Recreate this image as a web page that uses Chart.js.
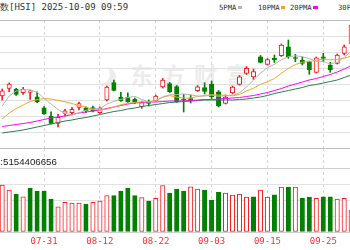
<!DOCTYPE html>
<html>
<head>
<meta charset="utf-8">
<script src="https://cdn.jsdelivr.net/npm/chart.js@4.4.1/dist/chart.umd.min.js"></script>
<style>
    html, body { margin: 0; padding: 0; background: #fff; }
    #wrap { position: relative; width: 350px; height: 250px; overflow: hidden; background: #fff; }
    canvas { position: absolute; left: 0; }
    .txt { position: absolute; white-space: nowrap; line-height: 1; font-family: "DejaVu Sans Mono", monospace; }
    .mk { position: absolute; top: 6px; width: 4px; height: 3px; }
    #mark { position: absolute; left: 130px; top: 63px; font: bold 23px "Noto Sans CJK SC", sans-serif;
            letter-spacing: 9px; color: #ececec; white-space: nowrap; line-height: 1; }
    #logo { position: absolute; left: 90px; top: 64px; width: 20px; height: 20px; border-radius: 50%;
            box-shadow: 6px 3px 0 0 #ececec; }
</style>
</head>
<body>
<div id="wrap">
    <div id="logo"></div>
    <div id="mark">东方财富</div>
    <canvas id="kline" width="350" height="131" style="top:19px"></canvas>
    <canvas id="volume" width="350" height="103" style="top:147px"></canvas>

    <div class="txt" style="top:3px; right:341px; font-size:9px; color:#333">恒生指数</div>
    <div class="txt" style="top:3px; left:9px; font-size:9px; color:#333">[HSI] 2025-10-09 09:59</div>

    <div class="txt" style="top:4px; left:219px; font-size:7.2px; color:#333">5PMA</div>
    <div class="mk" style="left:238px; background:#b4b4b4"></div>
    <div class="txt" style="top:4px; left:258px; font-size:7.2px; color:#333">10PMA</div>
    <div class="mk" style="left:281px; background:#f5a623"></div>
    <div class="txt" style="top:4px; left:290px; font-size:7.2px; color:#333">20PMA</div>
    <div class="mk" style="left:313px; width:5px; background:#ff00ff"></div>
    <div class="txt" style="top:4px; left:338px; font-size:7.2px; color:#333">30PMA</div>

    <div class="txt" style="top:156px; right:347px; font:9.7px 'Liberation Sans'; color:#222">成交量:</div>
    <div class="txt" style="top:156px; left:3px; font:9.7px 'Liberation Sans'; color:#222">5154406656</div>
</div>
<script>
// trading days shown (07-23 .. 10-02), labels every 8 bars
const dates = ["07-23", "07-24", "07-25", "07-28", "07-29", "07-30", "07-31", "08-01", "08-04", "08-05",
    "08-06", "08-07", "08-08", "08-11", "08-12", "08-13", "08-14", "08-15", "08-18", "08-19",
    "08-20", "08-21", "08-22", "08-25", "08-26", "08-27", "08-28", "08-29", "09-01", "09-02",
    "09-03", "09-04", "09-05", "09-08", "09-09", "09-10", "09-11", "09-12", "09-15", "09-16",
    "09-17", "09-18", "09-19", "09-22", "09-23", "09-24", "09-25", "09-26", "09-29", "09-30", "10-02"];
const tickIdx = [6, 14, 22, 30, 38, 46];

const opens = [25500, 25692, 25667, 25582, 25592, 25482, 25207, 25000, 24817, 25067,
    25082, 25217, 25207, 25212, 25082, 25400, 25837, 25467, 25467, 25417,
    25232, 25362, 25382, 25725, 25812, 25737, 25425, 25437, 25632, 25712,
    25800, 25607, 25317, 25575, 25792, 26067, 25975, 26482, 26292, 26450,
    26507, 26732, 26462, 26400, 26357, 26092, 26482, 26275, 26317, 26567, 26817];
const highs = [25675, 25825, 25692, 25717, 25650, 25607, 25237, 25107, 25042, 25167,
    25217, 25350, 25232, 25250, 25225, 25750, 25900, 25592, 25582, 25450,
    25362, 25400, 25525, 25937, 25837, 25762, 25537, 25525, 25762, 25832,
    25875, 25637, 25525, 25750, 26012, 26237, 26175, 26512, 26437, 26525,
    26800, 26900, 26542, 26475, 26375, 26475, 26567, 26342, 26550, 26775, 27350];
const lows = [25400, 25607, 25517, 25542, 25417, 25332, 25037, 24800, 24725, 25000,
    25025, 25150, 25082, 25100, 25062, 25375, 25625, 25362, 25337, 25312,
    25192, 25250, 25362, 25700, 25587, 25337, 25100, 25325, 25612, 25550,
    25437, 25225, 25300, 25550, 25775, 26037, 25912, 26325, 26275, 26337,
    26487, 26442, 26357, 26275, 26042, 26075, 26357, 26092, 26300, 26525, 26800];
const closes = [25632, 25800, 25537, 25667, 25625, 25357, 25050, 24817, 24967, 25132,
    25167, 25312, 25132, 25125, 25207, 25725, 25637, 25382, 25357, 25342,
    25337, 25312, 25500, 25900, 25607, 25357, 25400, 25387, 25732, 25612,
    25482, 25250, 25475, 25725, 25982, 26192, 26112, 26342, 26412, 26400,
    26775, 26482, 26437, 26312, 26150, 26457, 26442, 26150, 26525, 26732, 27275];

const ma5 = [25250, 25500, 25625, 25662, 25652, 25595, 25447, 25300, 25162, 25065,
    25027, 25080, 25142, 25175, 25190, 25300, 25365, 25415, 25462, 25490,
    25412, 25347, 25370, 25477, 25532, 25535, 25552, 25530, 25497, 25497,
    25522, 25492, 25510, 25510, 25582, 25725, 25897, 26070, 26207, 26292,
    26407, 26482, 26505, 26485, 26435, 26370, 26362, 26302, 26345, 26462, 26625];
const ma10 = [24925, 25075, 25187, 25275, 25362, 25412, 25437, 25425, 25387, 25357,
    25312, 25262, 25222, 25167, 25150, 25175, 25222, 25280, 25317, 25340,
    25355, 25355, 25392, 25470, 25510, 25472, 25450, 25450, 25487, 25515,
    25530, 25522, 25520, 25502, 25540, 25625, 25695, 25790, 25857, 25937,
    26067, 26190, 26287, 26345, 26362, 26390, 26422, 26402, 26415, 26447, 26497];
const ma20 = [24737, 24762, 24787, 24812, 24837, 24875, 24912, 24950, 24975, 25000,
    25037, 25075, 25100, 25125, 25150, 25187, 25225, 25262, 25300, 25325,
    25337, 25350, 25350, 25362, 25375, 25375, 25375, 25387, 25400, 25412,
    25412, 25425, 25437, 25450, 25462, 25487, 25512, 25550, 25587, 25637,
    25687, 25750, 25800, 25850, 25900, 25937, 25987, 26037, 26100, 26175, 26250];
const ma30 = [24575, 24600, 24625, 24650, 24687, 24725, 24762, 24800, 24837, 24875,
    24900, 24937, 24962, 25000, 25037, 25075, 25112, 25137, 25175, 25200,
    25237, 25262, 25287, 25312, 25337, 25350, 25362, 25375, 25387, 25400,
    25400, 25400, 25400, 25400, 25412, 25425, 25450, 25475, 25512, 25562,
    25600, 25637, 25675, 25712, 25762, 25787, 25825, 25862, 25900, 25962, 26025];

// volume in 1e8 shares, volUp = 1 for hollow red bars
const volumes = [117.5, 105, 94, 88, 109, 102.5, 102.5, 82.5, 63, 74,
    72, 72, 70, 74, 77, 91, 91, 102.5, 109, 91,
    86, 77.5, 84, 116, 97, 107, 102.5, 113, 107.5, 105,
    80, 99, 97, 92.5, 95, 87, 88, 105, 87, 93,
    112, 112, 112, 84, 87, 84, 88, 88, 82, 84, 55];
const volUp = [1, 1, 0, 1, 0, 0, 0, 0, 1, 1,
    1, 1, 0, 1, 1, 1, 0, 0, 0, 0,
    1, 0, 1, 1, 0, 0, 0, 1, 1, 0,
    0, 0, 1, 1, 1, 1, 0, 1, 1, 0,
    1, 0, 1, 0, 0, 1, 0, 0, 1, 1, 1];

const priceTicks = [24200, 24600, 25000, 25400, 25800, 26200, 26600, 27000, 27400];
const volTicks = [0, 40, 80, 120, 160, 210];

const RED = "#f21d1d";
const GREEN = "#008000";
const xMin = -0.315;
const xMax = 49.83;

function points(arr) {
    return arr.map((v, i) => ({ x: i, y: v }));
}

function maLine(arr, color) {
    return {
        type: "line",
        data: points(arr),
        borderColor: color,
        borderWidth: 1,
        pointRadius: 0,
        tension: 0,
        order: 0
    };
}

function xScale(showLabels) {
    return {
        type: "linear",
        min: xMin,
        max: xMax,
        offset: false,
        afterBuildTicks: s => { s.ticks = tickIdx.map(v => ({ value: v })); },
        afterFit: s => { s.height = showLabels ? 18 : 0; },
        ticks: {
            display: showLabels,
            autoSkip: false,
            maxRotation: 0,
            padding: 4,
            color: "#ff3030",
            font: { family: "DejaVu Sans Mono", size: 9 },
            callback: v => dates[v]
        },
        grid: { offset: false, drawTicks: false, color: "#d4d4d4" },
        border: { display: false, dash: [3, 3] }
    };
}

const up = closes.map((c, i) => c >= opens[i]);

new Chart(document.getElementById("kline"), {
    type: "bar",
    data: {
        datasets: [
            maLine(ma5, "#b4b4b4"),
            maLine(ma10, "#f5a623"),
            maLine(ma20, "#ff00ff"),
            maLine(ma30, "#2e7d4f"),
            {
                data: opens.map((o, i) => ({ x: i, y: [o, closes[i]] })),
                backgroundColor: up.map(u => u ? "#fff" : GREEN),
                borderColor: up.map(u => u ? RED : GREEN),
                borderWidth: 1,
                borderSkipped: false,
                barThickness: 4.4,
                grouped: false,
                order: 1
            },
            {
                data: lows.map((l, i) => ({ x: i, y: [l, highs[i]] })),
                backgroundColor: up.map(u => u ? RED : GREEN),
                barThickness: 1,
                grouped: false,
                order: 2
            }
        ]
    },
    options: {
        responsive: false,
        animation: false,
        devicePixelRatio: 1,
        layout: { padding: { top: 1, bottom: 2, left: 0, right: 0 } },
        plugins: { legend: { display: false }, tooltip: { enabled: false } },
        scales: {
            x: xScale(false),
            y: {
                min: 24200,
                max: 27400,
                afterBuildTicks: s => { s.ticks = priceTicks.map(v => ({ value: v })); },
                afterFit: s => { s.width = 0; },
                ticks: { display: false },
                grid: {
                    drawTicks: false,
                    color: ctx => (ctx.tick && (ctx.tick.value === 27400 || ctx.tick.value === 24200)) ? "#bdbdbd" : "#e2e2e2"
                },
                border: { display: false }
            }
        }
    }
});

new Chart(document.getElementById("volume"), {
    type: "bar",
    data: {
        datasets: [{
            data: points(volumes),
            backgroundColor: volUp.map(u => u ? "#fff" : GREEN),
            borderColor: volUp.map(u => u ? RED : GREEN),
            borderWidth: 1,
            borderSkipped: false,
            barThickness: 4.4
        }]
    },
    options: {
        responsive: false,
        animation: false,
        devicePixelRatio: 1,
        layout: { padding: { top: 1, bottom: 0, left: 0, right: 0 } },
        plugins: { legend: { display: false }, tooltip: { enabled: false } },
        scales: {
            x: xScale(true),
            y: {
                min: 0,
                max: 210,
                afterBuildTicks: s => { s.ticks = volTicks.map(v => ({ value: v })); },
                afterFit: s => { s.width = 0; },
                ticks: { display: false },
                grid: {
                    drawTicks: false,
                    color: ctx => {
                        if (!ctx.tick) return "#e2e2e2";
                        if (ctx.tick.value === 210) return "#bdbdbd";
                        if (ctx.tick.value === 160 || ctx.tick.value === 0) return "#cfcfcf";
                        return "#e2e2e2";
                    }
                },
                border: { display: false }
            }
        }
    }
});
</script>
</body>
</html>
